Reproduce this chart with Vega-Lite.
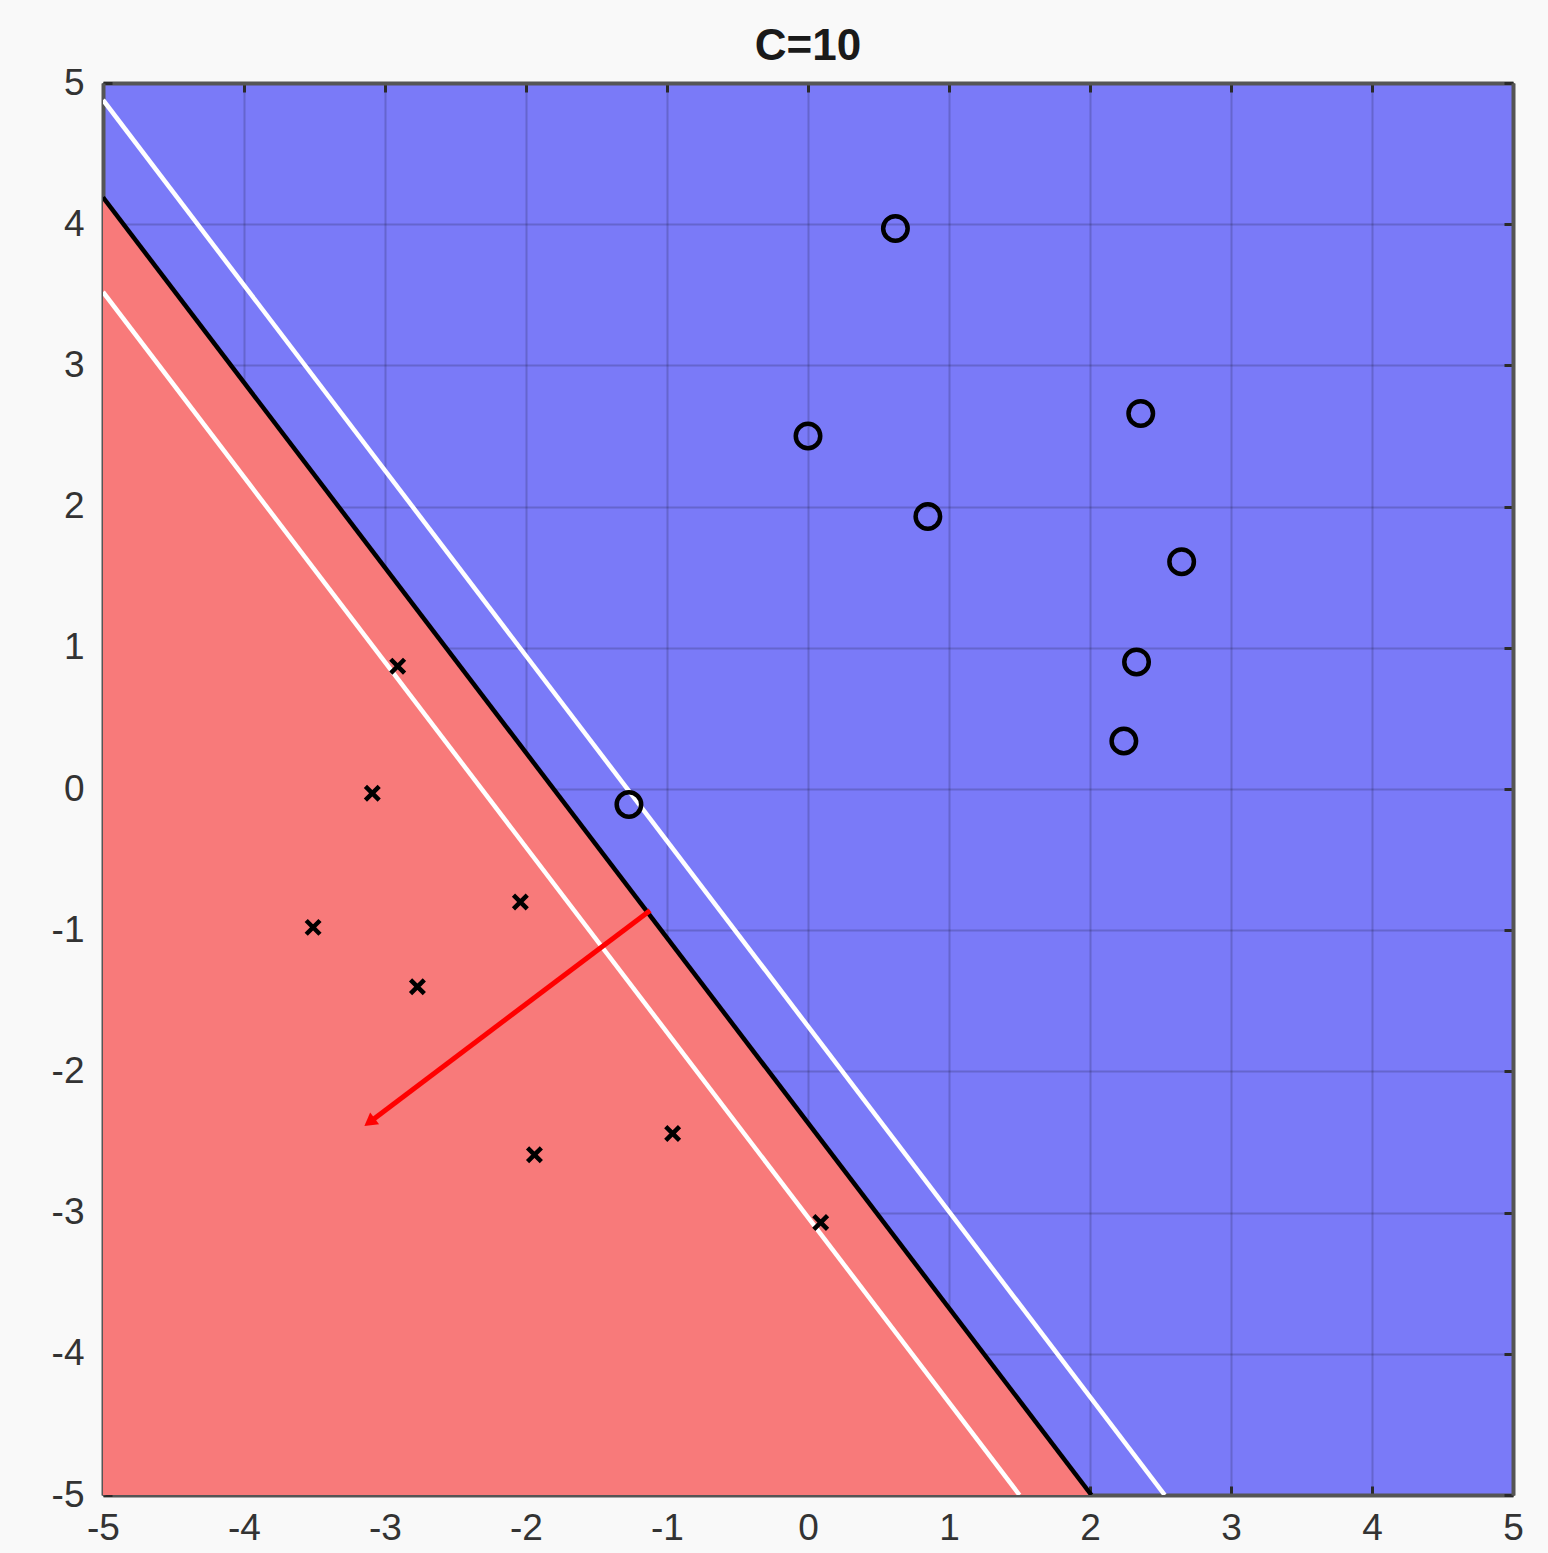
{
  "$schema": "https://vega.github.io/schema/vega-lite/v6.json",
  "width": 1410,
  "height": 1412,
  "autosize": {"type": "none"},
  "padding": {"left": 103, "top": 83, "right": 35, "bottom": 58},
  "background": "#f9f9f9",
  "title": {"text": "C=10", "fontSize": 44, "fontWeight": "bold", "font": "Liberation Sans", "color": "#1a1a1a", "offset": -5},
  "config": {
    "view": {"fill": "#7a7af8", "stroke": null},
    "axis": {
      "zindex": 1,
      "labelFont": "Liberation Sans",
      "labelFontSize": 37,
      "labelColor": "#333333",
      "domainColor": "#555555",
      "domainWidth": 4,
      "tickColor": "#2a2a2a",
      "tickWidth": 3,
      "tickSize": -9,
      "gridColor": "#000000",
      "gridOpacity": 0.17,
      "gridWidth": 2,
      "title": null
    }
  },
  "datasets": {
    "region": [
      {"x": -5, "y": 4.19, "y2": -5},
      {"x": 2.01, "y": -5, "y2": -5}
    ],
    "lines": [
      {"kind": "margin", "x": -5, "y": 4.88, "x2": 2.53, "y2": -5},
      {"kind": "margin", "x": -5, "y": 3.52, "x2": 1.5, "y2": -5},
      {"kind": "boundary", "x": -5, "y": 4.19, "x2": 2.01, "y2": -5}
    ],
    "arrow": [
      {"x": -1.12, "y": -0.86, "x2": -3.11, "y2": -2.36}
    ],
    "points": [
      {"cls": "o", "x": 0.62, "y": 3.97},
      {"cls": "o", "x": 0.0, "y": 2.5},
      {"cls": "o", "x": 2.36, "y": 2.66},
      {"cls": "o", "x": 0.85, "y": 1.93},
      {"cls": "o", "x": 2.65, "y": 1.61},
      {"cls": "o", "x": 2.33, "y": 0.9},
      {"cls": "o", "x": 2.24, "y": 0.34},
      {"cls": "o", "x": -1.27, "y": -0.11},
      {"cls": "x", "x": -2.91, "y": 0.87},
      {"cls": "x", "x": -3.09, "y": -0.03},
      {"cls": "x", "x": -3.51, "y": -0.98},
      {"cls": "x", "x": -2.04, "y": -0.8},
      {"cls": "x", "x": -2.77, "y": -1.4},
      {"cls": "x", "x": -1.94, "y": -2.59},
      {"cls": "x", "x": -0.96, "y": -2.44},
      {"cls": "x", "x": 0.09, "y": -3.07}
    ]
  },
  "resolve": {"axis": {"x": "independent", "y": "independent"}},
  "layer": [
    {
      "data": {"name": "region"},
      "mark": {"type": "area", "color": "#f87a7a", "clip": true},
      "encoding": {
        "x": {"field": "x", "type": "quantitative",
              "scale": {"domain": [-5, 5], "nice": false, "zero": false},
              "axis": {"orient": "bottom", "values": [-5, -4, -3, -2, -1, 0, 1, 2, 3, 4, 5], "labelExpr": "toString(datum.value)", "labelPadding": 24, "labelFlush": false}},
        "y": {"field": "y", "type": "quantitative",
              "scale": {"domain": [-5, 5], "nice": false, "zero": false},
              "axis": {"orient": "left", "values": [-5, -4, -3, -2, -1, 0, 1, 2, 3, 4, 5], "labelExpr": "toString(datum.value)", "labelPadding": 28, "labelFlush": false}},
        "y2": {"field": "y2"}
      }
    },
    {
      "data": {"name": "lines"},
      "mark": {"type": "rule", "strokeWidth": 4.5, "clip": true},
      "encoding": {
        "x": {"field": "x", "type": "quantitative",
              "axis": {"orient": "top", "values": [-5, -4, -3, -2, -1, 0, 1, 2, 3, 4, 5], "labels": false, "grid": false}},
        "y": {"field": "y", "type": "quantitative",
              "axis": {"orient": "right", "values": [-5, -4, -3, -2, -1, 0, 1, 2, 3, 4, 5], "labels": false, "grid": false}},
        "x2": {"field": "x2"},
        "y2": {"field": "y2"},
        "color": {"field": "kind", "type": "nominal",
                  "scale": {"domain": ["margin", "boundary"], "range": ["#ffffff", "#000000"]},
                  "legend": null}
      }
    },
    {
      "data": {"name": "arrow"},
      "mark": {"type": "rule", "strokeWidth": 5, "color": "#ff0000"},
      "encoding": {
        "x": {"field": "x", "type": "quantitative", "axis": null},
        "y": {"field": "y", "type": "quantitative", "axis": null},
        "x2": {"field": "x2"},
        "y2": {"field": "y2"}
      }
    },
    {
      "data": {"name": "arrow"},
      "mark": {"type": "point", "shape": "triangle-up", "filled": true, "color": "#ff0000", "size": 220, "angle": 233, "opacity": 1},
      "encoding": {
        "x": {"field": "x2", "type": "quantitative", "axis": null},
        "y": {"field": "y2", "type": "quantitative", "axis": null}
      }
    },
    {
      "data": {"name": "points"},
      "transform": [{"filter": "datum.cls == 'o'"}],
      "mark": {"type": "point", "shape": "circle", "filled": false, "stroke": "#000000", "strokeWidth": 4.5, "size": 600, "opacity": 1},
      "encoding": {
        "x": {"field": "x", "type": "quantitative", "axis": null},
        "y": {"field": "y", "type": "quantitative", "axis": null}
      }
    },
    {
      "data": {"name": "points"},
      "transform": [{"filter": "datum.cls == 'x'"}],
      "mark": {"type": "point", "shape": "M-1,-1L1,1M1,-1L-1,1", "filled": false, "stroke": "#000000", "strokeWidth": 4.5, "size": 190, "opacity": 1},
      "encoding": {
        "x": {"field": "x", "type": "quantitative", "axis": null},
        "y": {"field": "y", "type": "quantitative", "axis": null}
      }
    }
  ]
}
